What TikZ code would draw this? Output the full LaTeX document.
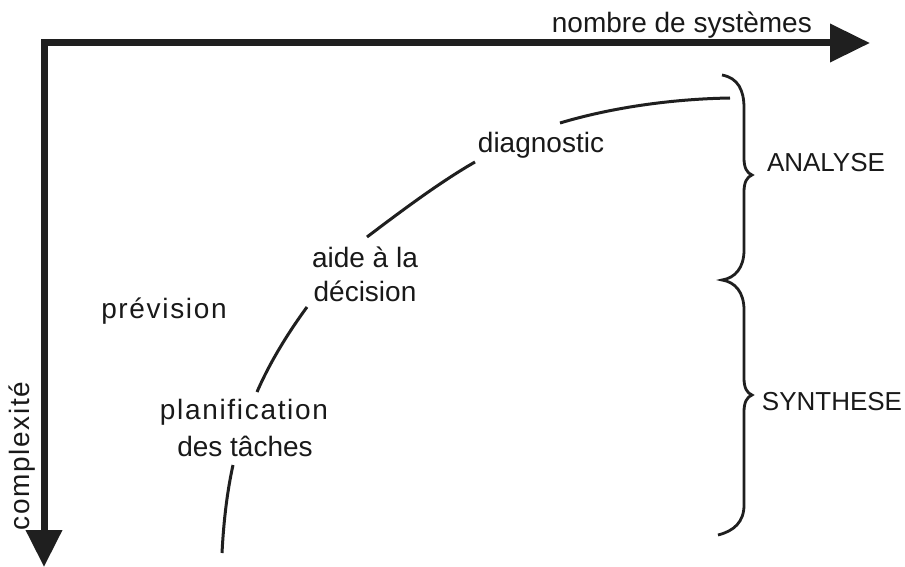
\documentclass[tikz,border=0pt]{standalone}
\usepackage{fontspec}
\setmainfont{Liberation Sans}
\usetikzlibrary{arrows.meta}
\begin{document}
\begin{tikzpicture}[x=1pt,y=-1pt,
  lbl/.style={inner sep=0pt,font=\fontsize{28}{34}\selectfont,text=black!90},
  wide/.style={inner sep=0pt,font=\fontsize{28}{34}\selectfont\addfontfeatures{LetterSpace=6},text=black!90},
  caps/.style={inner sep=0pt,font=\fontsize{26}{30}\selectfont,text=black!90},
  axis/.style={line width=7pt,black!88},
  curve/.style={line width=3pt,black!88},
  bracepath/.style={line width=2.8pt,black!88}]
\useasboundingbox[fill=white] (0,0) rectangle (905,567);
% axes
\coordinate (o) at (44,43);
\coordinate (xend) at (870,43);
\coordinate (yend) at (44,567);
\draw[axis,{Triangle[length=37pt,width=35pt]}-{Triangle[length=40pt,width=37pt]},line join=miter] (yend) -- (o) -- (xend);
\node[lbl,anchor=base east] (nombre) at (812,33) {nombre de systèmes};
\node[wide,rotate=90] (complex) at (22,456) {complexité};
% labels
\node[wide] (prev) at (164,311) {prévision};
\node[wide] (plan) at (244,412) {planification};
\node[lbl] (taches) at (245,446) {des tâches};
\node[lbl,align=center] (aide) at (365,274) {aide à la\\décision};
\node[lbl] (diag) at (541,145) {diagnostic};
\node[caps] (analyse) at (826,163) {ANALYSE};
\node[caps] (synth) at (832,402) {SYNTHESE};
% curve ends
\coordinate (c0) at (222,553);
\coordinate (c1) at (233,465);
\coordinate (c2) at (257,392);
\coordinate (c3) at (307,307);
\coordinate (c4) at (367,237);
\coordinate (c5) at (475,162);
\coordinate (c6) at (560,123);
\coordinate (c7) at (730,98);
\draw[curve] (c0) .. controls (224,515) and (228,488) .. (c1);
\draw[curve] (c2) .. controls (270,362) and (288,333) .. (c3);
\draw[curve] (c4) .. controls (400,212) and (440,182) .. (c5);
\draw[curve] (c6) .. controls (610,108) and (670,99) .. (c7);
% braces
\draw[bracepath] (722,75) .. controls (738,78) and (744,90) .. (744,108) -- (744,158)
  .. controls (744,168) and (747,173) .. (752,175)
  .. controls (747,177) and (744,182) .. (744,192) -- (744,250)
  .. controls (744,268) and (735,278) .. (722,280)
  .. controls (735,282) and (744,292) .. (744,310) -- (744,378)
  .. controls (744,388) and (747,393) .. (752,395)
  .. controls (747,397) and (744,402) .. (744,412) -- (744,505)
  .. controls (744,522) and (734,531) .. (718,535);
\end{tikzpicture}
\end{document}
